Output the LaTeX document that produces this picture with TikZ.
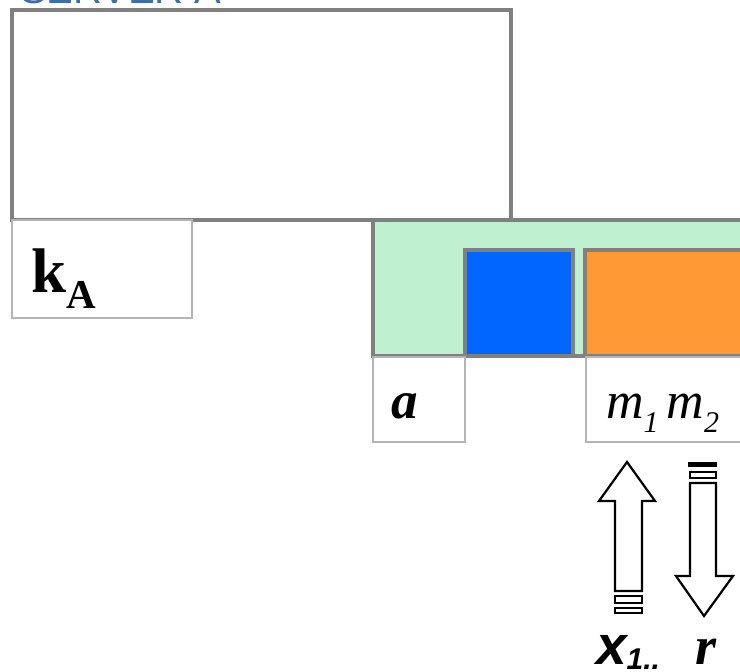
\documentclass[tikz,border=0pt]{standalone}
\usepackage{fontspec}
\setmainfont{Liberation Serif}
\setsansfont{Liberation Sans}
\definecolor{titleblue}{RGB}{59,110,172}
\definecolor{darkline}{RGB}{128,128,128}
\definecolor{lightline}{RGB}{180,180,180}
\definecolor{mint}{RGB}{191,240,207}
\definecolor{keyblue}{RGB}{0,102,255}
\definecolor{keyorange}{RGB}{255,153,51}
\tikzset{
  box/.style={rectangle, inner sep=0pt, outer sep=0pt, anchor=north west},
  darkbox/.style={box, draw=darkline, line width=3.4pt},
  lightbox/.style={box, draw=lightline, line width=2.6pt},
  blockarrow/.style={draw=black, line width=2.2pt, fill=white, line join=miter},
  lbl/.style={inner sep=0pt, outer sep=0pt, anchor=base west}
}
\begin{document}
\begin{tikzpicture}[x=1pt,y=-1pt]
\useasboundingbox (0,0) rectangle (740,672);
\clip (0,0) rectangle (740,672);
% title (cut off at top)
\node[lbl, text=titleblue] (title) at (20,3) {\sffamily\fontsize{40}{40}\selectfont SERVER A};
% big box
\node[darkbox, fill=white, minimum width=499pt, minimum height=210pt] (big) at (12,10) {};
% k_A box
\node[lightbox, fill=white, minimum width=180pt, minimum height=98pt] (kbox) at (12,220) {};
\node[lbl] (kA) at (31,292) {\bfseries\fontsize{63}{63}\selectfont k\raisebox{-16pt}{\fontsize{41}{41}\selectfont A}};
% green area
\node[darkbox, fill=mint, minimum width=390pt, minimum height=136pt] (green) at (373,220) {};
\node[darkbox, fill=keyblue, minimum width=108pt, minimum height=106pt] (bluekey) at (465,250) {};
\node[darkbox, fill=keyorange, minimum width=180pt, minimum height=106pt] (orangekey) at (585,250) {};
% label boxes
\node[lightbox, fill=white, minimum width=92pt, minimum height=85pt] (abox) at (373,357) {};
\node[lightbox, fill=white, minimum width=180pt, minimum height=85pt] (mbox) at (586,357) {};
\node[lbl] (alab) at (391,418) {\bfseries\itshape\fontsize{53}{53}\selectfont a};
\node[lbl] (mlab) at (606,418) {\itshape\fontsize{52}{52}\selectfont m\raisebox{-14pt}{\fontsize{30}{30}\selectfont 1}\hspace{8pt}m\raisebox{-14pt}{\fontsize{30}{30}\selectfont 2}};
% up arrow
\draw[blockarrow] (615,591) -- (615,501) -- (599,501) -- (627,462) -- (655,501) -- (642,501) -- (642,591) -- cycle;
\draw[blockarrow] (615,596) rectangle (642,603);
\draw[blockarrow] (615,608) rectangle (642,613);
% down arrow
\fill[black] (688,462) rectangle (717,467);
\draw[blockarrow] (690,472) rectangle (716,478);
\draw[blockarrow] (690,483) -- (690,576) -- (676,576) -- (704,616) -- (733,576) -- (716,576) -- (716,483) -- cycle;
% bottom labels
\node[lbl] (xlab) at (596,664) {\sffamily\bfseries\itshape\fontsize{55}{55}\selectfont x\raisebox{-5pt}{\fontsize{30}{30}\selectfont 1..}};
\node[lbl] (rlab) at (695,664) {\bfseries\itshape\fontsize{54}{54}\selectfont r};
\end{tikzpicture}
\end{document}
